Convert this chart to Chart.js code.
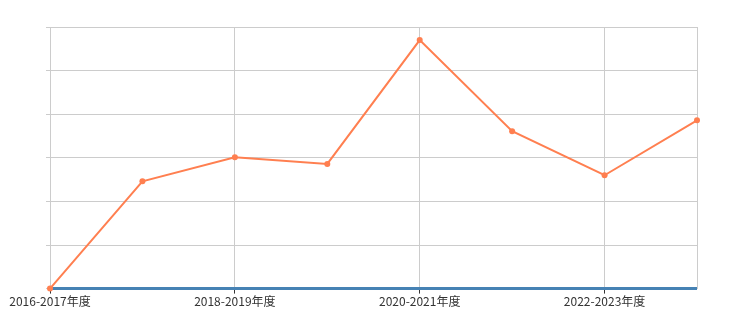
<!DOCTYPE html>
<html>
<head>
<meta charset="utf-8">
<script src="https://cdn.jsdelivr.net/npm/chart.js@4.4.1/dist/chart.umd.min.js"></script>
<style>
  html, body { margin: 0; padding: 0; background: #fff; }
  #wrap { width: 736px; height: 335px; }
</style>
</head>
<body>
<div id="wrap"><canvas id="myChart" width="736" height="335"></canvas></div>
<script>
const years = ['2016-2017年度', '2017-2018年度', '2018-2019年度', '2019-2020年度',
  '2020-2021年度', '2021-2022年度', '2022-2023年度', '2023-2024年度'];
const orangeValues = [0, 2.46, 3.01, 2.86, 5.70, 3.61, 2.60, 3.86];
const blueValues = [0, 0, 0, 0, 0, 0, 0, 0];

const ctx = document.getElementById('myChart');
new Chart(ctx, {
  type: 'line',
  data: {
    labels: years,
    datasets: [{
      data: orangeValues,
      borderColor: '#ff7f50',
      backgroundColor: '#ff7f50',
      borderWidth: 2,
      pointRadius: 3,
      pointBorderWidth: 0,
      tension: 0,
      clip: false,
      order: 1
    }, {
      data: blueValues,
      borderColor: '#4682b4',
      backgroundColor: '#4682b4',
      borderWidth: 3,
      pointRadius: 0,
      tension: 0,
      clip: false,
      order: 2
    }]
  },
  options: {
    responsive: false,
    animation: false,
    layout: { padding: { left: 46, right: 39, top: 27, bottom: 25 } },
    plugins: { legend: { display: false }, tooltip: { enabled: false } },
    scales: {
      x: {
        offset: false,
        grid: {
          color: (c) => (c.index % 2 === 0 || c.index === 7) ? '#cccccc' : 'rgba(0,0,0,0)',
          tickColor: (c) => (c.index % 2 === 0) ? '#333333' : 'rgba(0,0,0,0)',
          tickLength: 5
        },
        border: { color: '#cccccc' },
        ticks: {
          autoSkip: false,
          maxRotation: 0,
          padding: 1,
          color: '#333333',
          font: { family: '"Noto Sans CJK SC", sans-serif', size: 12 },
          callback: function(value, index) {
            return index % 2 === 0 ? this.getLabelForValue(value) : '';
          }
        }
      },
      y: {
        min: 0,
        max: 6,
        ticks: { display: false, stepSize: 1 },
        grid: { color: '#cccccc', tickColor: '#cccccc', tickLength: 4 },
        border: { color: '#cccccc' }
      }
    }
  }
});
</script>
</body>
</html>
